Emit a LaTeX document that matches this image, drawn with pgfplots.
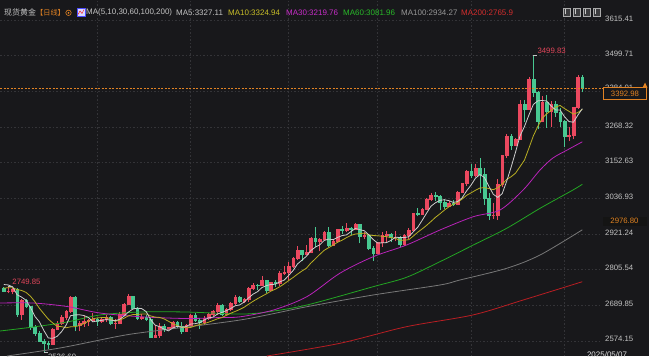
\documentclass[border=0pt]{standalone}
\usepackage{pgfplots}
\pgfplotsset{compat=1.18}
\usepackage{pgfplotstable}
\usepackage{fontspec}
\setmainfont{Liberation Sans}
\newfontfamily\cjk{Noto Sans CJK SC}
\definecolor{bg}{RGB}{24,24,27}
\definecolor{cup}{RGB}{235,72,95}
\definecolor{cdown}{RGB}{72,200,145}
\definecolor{ma5c}{RGB}{205,205,205}
\definecolor{ma10c}{RGB}{185,175,35}
\definecolor{ma30c}{RGB}{185,35,185}
\definecolor{ma60c}{RGB}{35,165,35}
\definecolor{ma100c}{RGB}{120,120,120}
\definecolor{ma200c}{RGB}{185,30,35}
\definecolor{gridc}{RGB}{52,52,56}
\definecolor{labgray}{RGB}{195,195,195}
\definecolor{orangec}{RGB}{225,130,35}
\definecolor{hicol}{RGB}{225,70,90}
\definecolor{h10}{RGB}{200,190,40}
\definecolor{h30}{RGB}{200,45,200}
\definecolor{h60}{RGB}{40,185,40}
\definecolor{h100}{RGB}{150,150,150}
\definecolor{h200}{RGB}{210,45,45}
\definecolor{icofill}{RGB}{60,60,62}
\definecolor{icodraw}{RGB}{170,170,170}
\definecolor{icoin}{RGB}{200,200,200}

\pgfplotstableread{
i o h l c
0 2744 2748 2732 2736
1 2736 2749.85 2728 2736
2 2736 2745 2725 2743
3 2743 2746 2652 2659
4 2659 2710 2643 2706
5 2706 2709 2680 2685
6 2685 2687 2610 2618
7 2618 2627 2590 2598
8 2598 2606 2570 2573
9 2573 2580 2536.69 2565
10 2565 2575 2547 2563
11 2563 2616 2560 2612
12 2612 2639 2609 2631
13 2631 2657 2625 2650
14 2650 2673 2642 2670
15 2670 2721 2664 2715
16 2715 2721 2605 2625
17 2625 2640 2605 2633
18 2633 2656 2619 2638
19 2638 2646 2623 2640
20 2640 2665 2634 2643
21 2643 2649 2622 2639
22 2639 2650 2632 2643
23 2643 2657 2635 2650
24 2650 2655 2624 2632
25 2632 2645 2613 2633
26 2633 2667 2628 2660
27 2660 2697 2655 2694
28 2694 2726 2690 2718
29 2718 2721 2676 2681
30 2681 2684 2643 2648
31 2648 2662 2643 2652
32 2652 2657 2637 2646
33 2646 2651 2583 2586
34 2586 2626 2583 2594
35 2594 2633 2584 2622
36 2622 2630 2603 2613
37 2613 2620 2609 2617
38 2617 2638 2614 2634
39 2634 2639 2617 2621
40 2621 2634 2596 2606
41 2606 2629 2604 2624
42 2624 2660 2620 2658
43 2658 2665 2635 2640
44 2640 2649 2614 2636
45 2636 2654 2625 2648
46 2648 2665 2643 2661
47 2661 2673 2655 2670
48 2670 2697 2657 2690
49 2690 2694 2656 2662
50 2662 2680 2658 2677
51 2677 2700 2670 2696
52 2696 2724 2690 2715
53 2715 2718 2697 2703
54 2703 2714 2696 2708
55 2708 2748 2700 2745
56 2745 2763 2739 2756
57 2756 2759 2740 2755
58 2755 2786 2751 2770
59 2770 2772 2730 2740
60 2740 2765 2736 2763
61 2763 2770 2750 2760
62 2760 2800 2753 2794
63 2794 2817 2788 2798
64 2798 2830 2772 2815
65 2815 2845 2810 2843
66 2843 2882 2835 2867
67 2867 2870 2834 2856
68 2856 2886 2853 2861
69 2861 2911 2859 2908
70 2908 2942 2880 2898
71 2898 2908 2864 2904
72 2904 2932 2903 2928
73 2928 2942 2877 2883
74 2883 2905 2882 2898
75 2898 2938 2893 2935
76 2935 2947 2920 2933
77 2933 2955 2926 2940
78 2940 2942 2918 2935
79 2935 2956 2934 2951
80 2951 2954 2890 2915
81 2915 2928 2903 2916
82 2916 2918 2870 2875
83 2875 2882 2833 2858
84 2858 2894 2855 2893
85 2893 2928 2880 2918
86 2918 2930 2895 2920
87 2920 2925 2894 2910
88 2910 2930 2897 2910
89 2910 2914 2880 2889
90 2889 2920 2881 2916
91 2916 2940 2906 2934
92 2934 2990 2931 2988
93 2988 3005 2978 2984
94 2984 3004 2982 3001
95 3001 3038 2999 3034
96 3034 3055 3028 3048
97 3048 3057 3029 3043
98 3043 3047 2999 3023
99 3023 3035 3002 3011
100 3011 3029 3008 3020
101 3020 3032 3012 3019
102 3019 3060 3015 3057
103 3057 3087 3055 3084
104 3084 3128 3077 3123
105 3123 3149 3101 3113
106 3113 3148 3105 3133
107 3133 3167 3054 3114
108 3114 3136 3015 3037
109 3037 3055 2966 2982
110 2982 3022 2970 2982
111 2982 3099 2966 3082
112 3082 3176 3072 3175
113 3175 3245 3167 3237
114 3237 3245 3194 3210
115 3210 3232 3205 3229
116 3229 3357 3226 3343
117 3343 3357 3283 3327
118 3327 3430 3325 3424
119 3424 3499.83 3366 3381
120 3381 3386 3260 3288
121 3288 3367 3287 3349
122 3349 3371 3266 3319
123 3319 3353 3268 3343
124 3343 3352 3300 3317
125 3317 3328 3269 3288
126 3288 3290 3202 3239
127 3239 3269 3222 3240
128 3240 3334 3228 3333
129 3333 3435 3325 3431
130 3431 3435 3380 3393
}\candles

\pgfplotstableread{
i ma5 ma10
0 2756.8 2744.9
1 2755.4 2746.6
2 2749.2 2746.1
3 2723.4 2740.5
4 2716.0 2737.5
5 2705.8 2731.3
6 2682.2 2718.8
7 2653.2 2701.2
8 2636.0 2679.7
9 2607.8 2661.9
10 2583.4 2644.6
11 2582.2 2632.2
12 2588.8 2621.0
13 2604.2 2620.1
14 2625.2 2616.5
15 2655.6 2619.5
16 2658.2 2620.2
17 2658.6 2623.7
18 2656.2 2630.2
19 2650.2 2637.7
20 2635.8 2645.7
21 2638.6 2648.4
22 2640.6 2649.6
23 2643.0 2649.6
24 2641.4 2645.8
25 2639.4 2637.6
26 2643.6 2641.1
27 2653.8 2647.2
28 2667.4 2655.2
29 2677.2 2659.3
30 2680.2 2659.8
31 2678.6 2661.1
32 2669.0 2661.4
33 2642.6 2655.0
34 2625.2 2651.2
35 2620.0 2650.1
36 2612.2 2645.4
37 2606.4 2637.7
38 2616.0 2629.3
39 2621.4 2623.3
40 2618.2 2619.1
41 2620.4 2616.3
42 2628.6 2617.5
43 2629.8 2622.9
44 2632.8 2627.1
45 2641.2 2629.7
46 2648.6 2634.5
47 2651.0 2639.8
48 2661.0 2645.4
49 2666.2 2649.5
50 2672.0 2656.6
51 2679.0 2663.8
52 2688.0 2669.5
53 2690.6 2675.8
54 2699.8 2683.0
55 2713.4 2692.7
56 2725.4 2702.2
57 2733.4 2710.7
58 2746.8 2718.7
59 2753.2 2726.5
60 2756.8 2735.1
61 2757.6 2741.5
62 2765.4 2749.4
63 2771.0 2758.9
64 2786.0 2769.6
65 2802.0 2779.4
66 2823.4 2790.5
67 2835.8 2800.6
68 2848.4 2809.7
69 2867.0 2826.5
70 2878.0 2840.0
71 2885.4 2854.4
72 2899.8 2867.8
73 2904.2 2876.3
74 2902.2 2884.6
75 2909.6 2893.8
76 2915.4 2900.4
77 2917.8 2908.8
78 2928.2 2916.2
79 2938.8 2920.5
80 2934.8 2922.2
81 2931.4 2923.4
82 2918.4 2918.1
83 2903.0 2915.6
84 2891.4 2915.1
85 2892.0 2913.4
86 2892.8 2912.1
87 2899.8 2909.1
88 2910.2 2906.6
89 2909.4 2900.4
90 2909.0 2900.5
91 2911.8 2902.3
92 2927.4 2913.6
93 2942.2 2926.2
94 2964.6 2937.0
95 2988.2 2948.6
96 3011.0 2961.4
97 3022.0 2974.7
98 3029.8 2986.0
99 3031.8 2998.2
100 3029.0 3008.6
101 3023.2 3017.1
102 3026.0 3024.0
103 3038.2 3034.0
104 3060.6 3046.2
105 3079.2 3054.1
106 3102.0 3062.6
107 3113.4 3069.7
108 3104.0 3071.1
109 3075.8 3068.2
110 3049.6 3064.4
111 3039.4 3070.7
112 3051.6 3082.5
113 3091.6 3097.8
114 3137.2 3106.5
115 3186.6 3118.1
116 3238.8 3139.1
117 3269.2 3160.4
118 3306.6 3199.1
119 3340.8 3239.0
120 3352.6 3269.6
121 3353.8 3296.3
122 3352.2 3310.7
123 3336.0 3321.3
124 3323.2 3332.0
125 3323.2 3337.9
126 3301.2 3327.5
127 3285.4 3318.8
128 3283.4 3309.7
129 3306.2 3314.7
130 3327.2 3325.2
}\matab

\begin{document}
\begin{tikzpicture}[x=1bp,y=1bp]
\useasboundingbox (0,0) rectangle (649,356);
\fill[bg] (0,0) rectangle (649,356);
\pgfplotstablegetrowsof{\candles}
\pgfmathtruncatemacro{\lastrow}{\pgfplotsretval-1}
\begin{scope}
\clip (0,0) rectangle (649,356);
\begin{axis}[
  at={(0,0)}, anchor=south west,
  scale only axis, width=600bp, height=356bp,
  xmin=-0.85, xmax=133.98, ymin=2524.9, ymax=3679.8,
  axis line style={draw=none},
  major tick style={draw=none},
  xtick={21,42,64,84,105,126}, xticklabels={},
  ytick={2574.15,2689.85,2805.54,2921.24,3036.93,3152.63,3268.32,3499.71,3615.41},
  extra y ticks={3384.01}, extra y tick labels={},
  extra y tick style={grid=major, major tick style={draw=none}},
  yticklabel pos=right,
  yticklabel style={font=\fontsize{7.8}{9}\selectfont, text=labgray, anchor=west, inner sep=0pt, xshift=5bp, yshift=1.5bp,
    /pgf/number format/fixed, /pgf/number format/fixed zerofill, /pgf/number format/precision=2,
    /pgf/number format/1000 sep={}, /pgf/number format/assume math mode=true},
  grid=major,
  major grid style={gridc, line width=0.5bp, dash pattern=on 1.5bp off 2bp},
  clip=false,
]
% candles
\pgfplotsforeachungrouped \k in {0,...,\lastrow}{%
  \pgfplotstablegetelem{\k}{i}\of\candles\let\ci\pgfplotsretval
  \pgfplotstablegetelem{\k}{o}\of\candles\let\co\pgfplotsretval
  \pgfplotstablegetelem{\k}{h}\of\candles\let\ch\pgfplotsretval
  \pgfplotstablegetelem{\k}{l}\of\candles\let\cl\pgfplotsretval
  \pgfplotstablegetelem{\k}{c}\of\candles\let\cc\pgfplotsretval
  \pgfmathsetmacro{\xa}{\ci-0.3}%
  \pgfmathsetmacro{\xb}{\ci+0.3}%
  \ifdim\cc pt<\co pt\def\ccol{cdown}\else\def\ccol{cup}\fi
  \edef\temp{\noexpand\draw[\ccol,line width=0.6bp] (axis cs:\ci,\cl) -- (axis cs:\ci,\ch);%
    \noexpand\filldraw[\ccol,line width=0.35bp] (axis cs:\xa,\co) rectangle (axis cs:\xb,\cc);}%
  \temp
}
% moving averages
\addplot[ma200c, line width=0.8bp, smooth, tension=0.5] coordinates {
(59.1,2524.9) (75.5,2566) (90.5,2620) (105.4,2658) (116.7,2706.5) (130,2765.9)};
\addplot[ma100c, line width=0.8bp, smooth, tension=0.5] coordinates {
(0.7,2524.9) (12.6,2550.8) (26.1,2589.8) (32.9,2604.4) (53.1,2641.7) (68.1,2684.8) (83,2722.8) (98,2755.2) (102.5,2771.4) (113,2809.4) (120.5,2852.5) (130,2934.27)};
\addplot[ma60c, line width=0.8bp, smooth, tension=0.5] coordinates {
(-0.85,2606) (6.6,2619) (14.2,2635.2) (21.6,2657.9) (30.6,2667.6) (41.1,2667.6) (53.1,2661) (59.1,2667.6) (68.1,2690.3) (83,2749.7) (90.5,2780.2) (98,2830.8) (105.5,2884.9) (113,2939.1) (120.5,3004) (127.9,3063.4) (130,3081.96)};
\addplot[ma30c, line width=0.8bp, smooth, tension=0.5] coordinates {
(-0.85,2696.8) (6.6,2696.8) (14.2,2685.5) (21.6,2664.4) (30.6,2652.4) (41.1,2646.5) (48.6,2649.8) (53.1,2652) (60.6,2674.1) (68.1,2717.3) (75.5,2793.2) (83,2847) (90.5,2884.9) (98,2933.6) (105.5,2976.8) (111.5,2998.5) (116.7,3063.4) (120.5,3128.3) (123.4,3167.2) (126.6,3193.1) (130,3219.76)};
\addplot[ma10c, line width=0.8bp] table[x=i, y=ma10] {\matab};
\addplot[ma5c, line width=0.8bp] table[x=i, y=ma5] {\matab};
% current price line
\draw[orangec, line width=0.6bp, dash pattern=on 2bp off 1.5bp] (axis cs:-0.85,3392.98) -- (axis cs:144.3,3392.98);
% extreme markers
\draw[labgray, line width=0.5bp] (axis cs:119,3499.83) -- (axis cs:119.85,3499.83);
\node[anchor=west, inner sep=0pt, text=hicol, font=\fontsize{7.8}{9}\selectfont, yshift=5bp] at (axis cs:119.9,3499.83) {3499.83};
\draw[labgray, line width=0.5bp] (axis cs:1,2749.85) -- (axis cs:1.85,2749.85);
\node[anchor=west, inner sep=0pt, text=hicol, font=\fontsize{7.8}{9}\selectfont, yshift=5bp] at (axis cs:1.9,2749.85) {2749.85};
\draw[labgray, line width=0.5bp] (axis cs:9,2536.69) -- (axis cs:9.85,2536.69);
\node[anchor=west, inner sep=0pt, text=labgray, font=\fontsize{7.8}{9}\selectfont, yshift=-4bp] at (axis cs:9.9,2536.69) {2536.69};
\end{axis}
% right side boxes
\node[anchor=west, inner sep=0pt, text=labgray, font=\fontsize{7.8}{9}\selectfont] at (605,267.8) {3384.01};
\filldraw[fill=bg, draw=orangec, line width=0.6bp] (603.5,256.7) rectangle (646.5,268.7);
\node[text=orangec, font=\fontsize{7.8}{9}\selectfont, inner sep=0pt] at (625,262.6) {3392.98};
\fill[orangec] (642.5,268.4) -- (647.5,268.4) -- (645,273.5) -- cycle;
\fill[black!92] (603,130) rectangle (647,139.5);
\node[text=orangec, font=\fontsize{7.8}{9}\selectfont, inner sep=0pt] at (624.5,134.8) {2976.80};
\node[anchor=north, inner sep=0pt, text=white!88!black, font=\fontsize{8}{9}\selectfont] at (607,4.5) {2025/05/07};
% header
\node[anchor=west, inner sep=0pt, text=labgray, font=\cjk\fontsize{8}{9}\selectfont] at (4,343.5) {现货黄金};
\node[anchor=west, inner sep=0pt, text=orangec, font=\cjk\fontsize{7.2}{8}\selectfont] at (36,343.5) {【日线】};
\draw[orangec, line width=0.6bp] (68.5,343.2) circle (2.7);
\fill[orangec] (68.5,343.2) circle (1);
\fill[white!85!blue] (77,340) rectangle (85,348);
\draw[blue!70!white, line width=0.4bp] (77,340) rectangle (85,348);
\draw[red, line width=0.4bp] (78,341.5) -- (80,345) -- (82,342.5) -- (84,346.5);
\node[anchor=west, inner sep=0pt, text=labgray, font=\fontsize{8}{9}\selectfont] at (86,343.5) {MA(5,10,30,60,100,200)};
\node[anchor=west, inner sep=0pt, text=labgray, font=\fontsize{8}{9}\selectfont] at (176,343.5) {MA5:3327.11};
\node[anchor=west, inner sep=0pt, text=h10, font=\fontsize{8}{9}\selectfont] at (228,343.5) {MA10:3324.94};
\node[anchor=west, inner sep=0pt, text=h30, font=\fontsize{8}{9}\selectfont] at (286,343.5) {MA30:3219.76};
\node[anchor=west, inner sep=0pt, text=h60, font=\fontsize{8}{9}\selectfont] at (343,343.5) {MA60:3081.96};
\node[anchor=west, inner sep=0pt, text=h100, font=\fontsize{8}{9}\selectfont] at (401,343.5) {MA100:2934.27};
\node[anchor=west, inner sep=0pt, text=h200, font=\fontsize{8}{9}\selectfont] at (461,343.5) {MA200:2765.9};
% toolbar icons
\foreach \xx in {563,573,583,593}{
  \filldraw[fill=icofill, draw=icodraw, line width=0.5bp] (\xx,340) rectangle (\xx+7,348);
  \draw[icoin, line width=0.5bp] (\xx+2,341.5) -- (\xx+2,346.5);
}
\end{scope}
\end{tikzpicture}
\end{document}
